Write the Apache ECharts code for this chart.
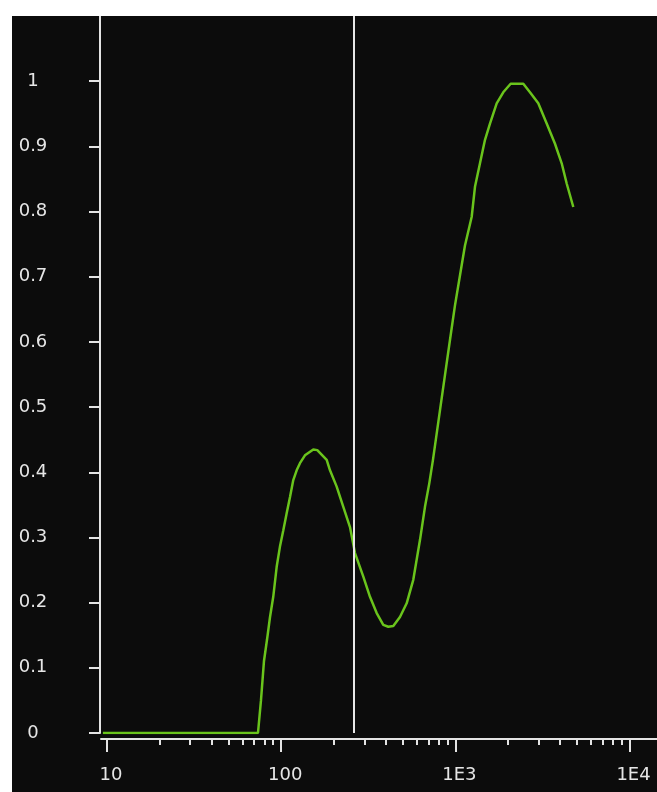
<!DOCTYPE html>
<html>
<head>
<meta charset="utf-8">
<script src="https://cdn.jsdelivr.net/npm/echarts@6/dist/echarts.min.js"></script>
<style>
html,body{margin:0;padding:0;background:#ffffff;width:657px;height:792px;overflow:hidden;}
#chart{position:absolute;left:12px;top:16px;width:645px;height:776px;background:#0c0c0c;}
</style>
</head>
<body>
<div id="chart"></div>
<script>
// frequency (x, log scale) and response (y)
const freq = [9.6, 74.3, 77.3, 80.4, 83.7, 87.1, 90.9, 95.1, 99.3, 103.8, 108.5, 113.4, 118.4, 123.8, 129.3, 138.1, 154.2, 162.5, 184.0, 192.2, 209.9, 229.1, 250.2, 267.3, 298.3, 325.8, 355.9, 388.2, 414.7, 443.1, 483.9, 528.7, 576.8, 630.0, 673.1, 712.4, 747.9, 820.3, 876.3, 936.1, 1000, 1068, 1141, 1247, 1302, 1391, 1486, 1587, 1734, 1891, 2085, 2463, 2690, 3002, 3354, 3742, 4088, 4367, 4765];
const response = [0, 0, 0.05, 0.11, 0.143, 0.178, 0.209, 0.255, 0.286, 0.311, 0.337, 0.362, 0.388, 0.403, 0.414, 0.426, 0.435, 0.434, 0.419, 0.403, 0.378, 0.347, 0.316, 0.276, 0.240, 0.209, 0.184, 0.166, 0.163, 0.164, 0.178, 0.199, 0.235, 0.296, 0.347, 0.383, 0.419, 0.495, 0.549, 0.603, 0.656, 0.702, 0.748, 0.792, 0.838, 0.874, 0.910, 0.935, 0.966, 0.983, 0.996, 0.996, 0.983, 0.966, 0.935, 0.904, 0.874, 0.843, 0.807];
const markerFreq = [264];
const xMajorTicks = [10, 100, 1000, 10000];
const xMajorLabels = ['10', '100', '1E3', '1E4'];
const xMinorTicks = [20, 30, 40, 50, 60, 70, 80, 90, 200, 300, 400, 500, 600, 700, 800, 900, 2000, 3000, 4000, 5000, 6000, 7000, 8000, 9000];
const yTicks = [0, 0.1, 0.2, 0.3, 0.4, 0.5, 0.6, 0.7, 0.8, 0.9, 1];
const yLabels = ['0', '0.1', '0.2', '0.3', '0.4', '0.5', '0.6', '0.7', '0.8', '0.9', '1'];

const lineData = freq.map((f, i) => [f, response[i]]);
const axisColor = '#e4e4e4';
const textStyle = {color: '#e6e6e6', fontFamily: 'DejaVu Sans', fontSize: 18};
const xMin = 9.24, xMax = 14380;

const chart = echarts.init(document.getElementById('chart'), null, {renderer: 'canvas'});
chart.setOption({
  animation: false,
  backgroundColor: '#0c0c0c',
  grid: [
    {left: 88, right: 0, top: 0, bottom: 59, containLabel: false},
    {left: 89, right: 0, top: 0, bottom: 53, containLabel: false}
  ],
  xAxis: [{
    gridIndex: 0, type: 'log', logBase: 10, min: xMin, max: xMax,
    axisLine: {show: false}, axisTick: {show: false}, axisLabel: {show: false}, splitLine: {show: false}
  }, {
    gridIndex: 1, type: 'log', logBase: 10, min: xMin, max: xMax, position: 'bottom',
    axisLine: {show: true, lineStyle: {color: axisColor, width: 2}},
    axisTick: {show: true, length: 13, lineStyle: {color: axisColor, width: 2}, customValues: xMajorTicks},
    axisLabel: Object.assign({show: true, margin: 27, padding: [0, 0, 0, 8], customValues: xMajorTicks,
      formatter: v => { const i = xMajorTicks.findIndex(t => Math.abs(t - v) / t < 1e-6); return i >= 0 ? xMajorLabels[i] : ''; }}, textStyle),
    splitLine: {show: false}
  }, {
    gridIndex: 1, type: 'log', logBase: 10, min: xMin, max: xMax, position: 'bottom',
    axisLine: {show: false},
    axisTick: {show: true, length: 6, lineStyle: {color: axisColor, width: 2}, customValues: xMinorTicks},
    axisLabel: {show: false},
    splitLine: {show: false}
  }],
  yAxis: [{
    gridIndex: 0, type: 'value', min: 0, max: 1.1,
    axisLine: {show: true, lineStyle: {color: axisColor, width: 2}},
    axisTick: {show: true, length: 11, lineStyle: {color: axisColor, width: 2}, customValues: yTicks},
    axisLabel: Object.assign({show: true, margin: 67, align: 'center', customValues: yTicks,
      formatter: v => { const i = yTicks.findIndex(t => Math.abs(t - v) < 1e-6); return i >= 0 ? yLabels[i] : ''; }}, textStyle),
    splitLine: {show: false}
  }, {
    gridIndex: 1, type: 'value', min: 0, max: 1.1, show: false
  }],
  series: [{
    type: 'line',
    xAxisIndex: 0, yAxisIndex: 0,
    data: lineData,
    showSymbol: false,
    lineStyle: {color: '#6ac41c', width: 2.5},
    markLine: {
      silent: true, symbol: 'none', label: {show: false},
      lineStyle: {color: '#e8e8e8', width: 2, type: 'solid'},
      data: markerFreq.map(f => ({xAxis: f}))
    }
  }]
});
</script>
</body>
</html>
